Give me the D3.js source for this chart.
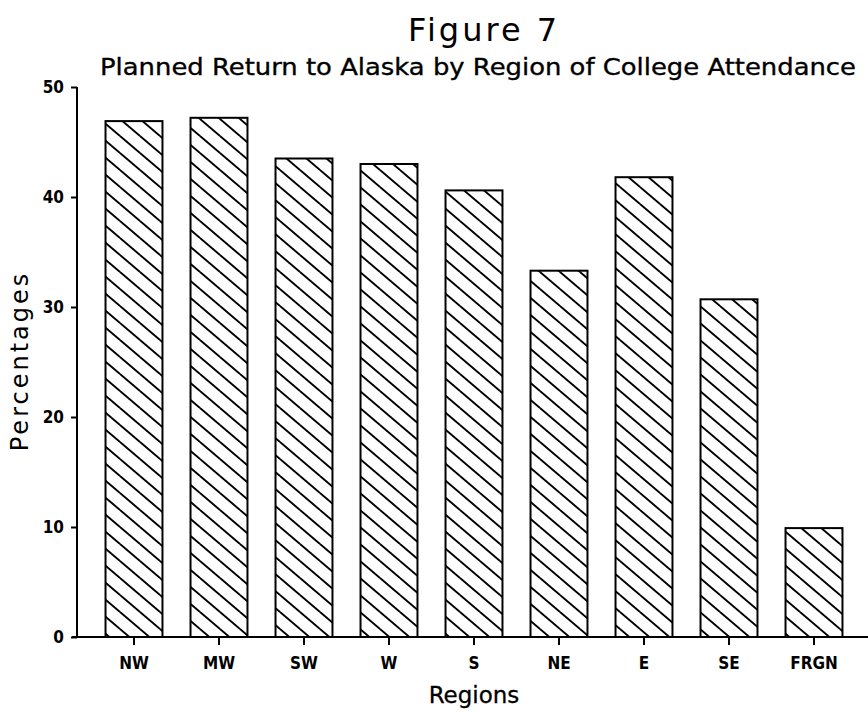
<!DOCTYPE html>
<html>
<head>
<meta charset="utf-8">
<script src="https://cdn.jsdelivr.net/npm/d3@7/dist/d3.min.js"></script>
<style>
  html, body { margin: 0; padding: 0; background: #fff; }
  svg { display: block; }
</style>
</head>
<body>
<svg id="chart" width="868" height="712"></svg>
<script>
const categories = ["NW", "MW", "SW", "W", "S", "NE", "E", "SE", "FRGN"];
const percentages = [46.9, 47.2, 43.5, 43.0, 40.6, 33.3, 41.8, 30.7, 9.9];
const yTicks = [0, 10, 20, 30, 40, 50];
const titleText = "Figure 7";
const subtitleText = "Planned Return to Alaska by Region of College Attendance";
const yLabel = "Percentages";
const xLabel = "Regions";

const svg = d3.select("#chart");

const x = d3.scaleBand()
  .domain(categories)
  .range([91.5, 856.5])
  .paddingInner(0.33)
  .paddingOuter(0.165);

const y = d3.scaleLinear().domain([0, 50]).range([637, 87]);

// hatch pattern
const W = 20, H = 17;
const defs = svg.append("defs");
const pat = defs.append("pattern")
  .attr("id", "hatch")
  .attr("patternUnits", "userSpaceOnUse")
  .attr("width", W).attr("height", H);
pat.append("rect").attr("width", W).attr("height", H).attr("fill", "#fff");
[[0, 0, W, H], [-W, 0, 0, H], [W, 0, 2 * W, H], [0, -H, W, 0], [0, H, W, 2 * H]].forEach(l => {
  pat.append("line")
    .attr("x1", l[0]).attr("y1", l[1]).attr("x2", l[2]).attr("y2", l[3])
    .attr("stroke", "#000").attr("stroke-width", 1.9);
});

// bars
svg.append("g").selectAll("rect")
  .data(categories.map((c, i) => ({ c, v: percentages[i] })))
  .join("rect")
  .attr("x", d => x(d.c))
  .attr("y", d => y(d.v))
  .attr("width", x.bandwidth())
  .attr("height", d => y(0) - y(d.v))
  .attr("fill", "url(#hatch)")
  .attr("stroke", "#000")
  .attr("stroke-width", 2);

// y axis
const yAxis = d3.axisLeft(y).tickValues(yTicks).tickSize(6).tickPadding(7).tickFormat(d3.format("d"));
const gy = svg.append("g").attr("transform", "translate(77,0)").call(yAxis);
gy.select(".domain").attr("d", `M0,${y(50)}V${y(0)}`).attr("stroke-width", 2);
gy.selectAll(".tick line").attr("stroke-width", 2);
gy.selectAll(".tick text")
  .attr("font-family", "'DejaVu Sans Condensed', 'DejaVu Sans', sans-serif")
  .attr("font-weight", "bold")
  .attr("font-size", 17)
  .attr("fill", "#000");

// x axis
const xAxis = d3.axisBottom(x).tickSize(8).tickPadding(12);
const gx = svg.append("g").attr("transform", `translate(0,${y(0)})`).call(xAxis);
gx.select(".domain").attr("d", "M72,0H868").attr("stroke-width", 2);
gx.selectAll(".tick line").attr("stroke-width", 2);
gx.selectAll(".tick text")
  .attr("font-family", "'DejaVu Sans Condensed', 'DejaVu Sans', sans-serif")
  .attr("font-weight", "bold")
  .attr("font-size", 17)
  .attr("fill", "#000");

// titles
svg.append("text")
  .attr("x", 484).attr("y", 41)
  .attr("text-anchor", "middle")
  .attr("font-family", "'DejaVu Sans', sans-serif")
  .attr("font-size", 32)
  .attr("letter-spacing", 3)
  .attr("fill", "#000")
  .text(titleText);

svg.append("text")
  .attr("x", 478).attr("y", 75)
  .attr("text-anchor", "middle")
  .attr("font-family", "'DejaVu Sans', sans-serif")
  .attr("font-size", 23)
  .attr("stroke", "#000").attr("stroke-width", 0.35)
  .attr("fill", "#000")
  .attr("textLength", 756).attr("lengthAdjust", "spacingAndGlyphs")
  .text(subtitleText);

svg.append("text")
  .attr("transform", "translate(28,361) rotate(-90)")
  .attr("text-anchor", "middle")
  .attr("font-family", "'DejaVu Sans', sans-serif")
  .attr("font-size", 24)
  .attr("letter-spacing", 3)
  .attr("fill", "#000")
  .text(yLabel);

svg.append("text")
  .attr("x", 474).attr("y", 703)
  .attr("text-anchor", "middle")
  .attr("font-family", "'DejaVu Sans', sans-serif")
  .attr("font-size", 23)
  .attr("stroke", "#000").attr("stroke-width", 0.3)
  .attr("fill", "#000")
  .text(xLabel);
</script>
</body>
</html>
